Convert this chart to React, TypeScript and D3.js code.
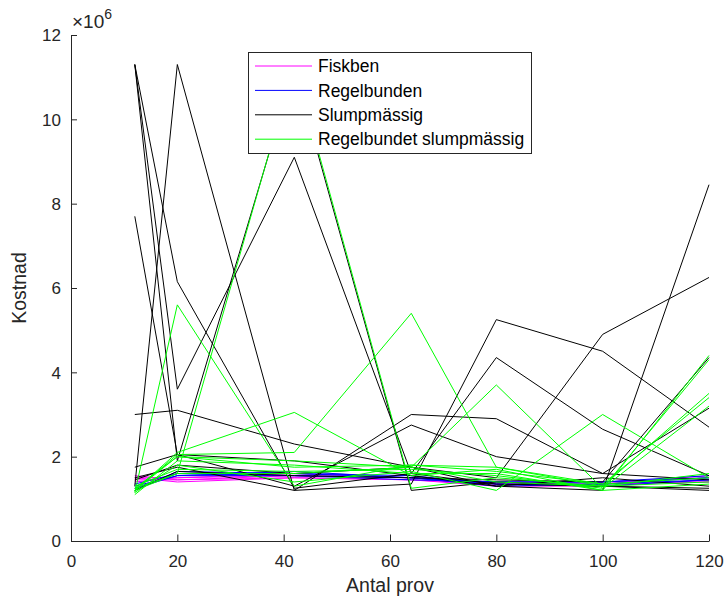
import React, { useEffect, useRef } from 'react';
import * as d3 from 'd3';

// antal prov (x) for every run
const antalProv = [12, 20, 42, 64, 80, 100, 120];

// kostnad in millions, one row per run
const fiskben = [
  [1.45, 1.45, 1.55, 1.5, 1.35, 1.35, 1.4],
  [1.5, 1.4, 1.5, 1.45, 1.3, 1.3, 1.45],
  [1.4, 1.5, 1.55, 1.5, 1.4, 1.4, 1.5],
  [1.55, 1.45, 1.5, 1.45, 1.35, 1.35, 1.55],
  [1.5, 1.5, 1.6, 1.5, 1.35, 1.4, 1.4],
];

const regelbunden = [
  [1.25, 1.6, 1.6, 1.5, 1.35, 1.35, 1.45],
  [1.3, 1.55, 1.55, 1.45, 1.4, 1.4, 1.5],
  [1.2, 1.65, 1.6, 1.55, 1.35, 1.3, 1.45],
  [1.35, 1.6, 1.55, 1.5, 1.3, 1.35, 1.5],
  [1.25, 1.55, 1.65, 1.5, 1.4, 1.4, 1.55],
];

const slumpmassig = [
  [11.3, 6.15, 1.25, 1.6, 1.35, 1.3, 1.25],
  [11.3, 3.6, 9.1, 1.6, 4.35, 2.65, 1.55],
  [1.3, 11.3, 1.2, 1.35, 5.25, 4.5, 2.7],
  [7.7, 2.05, 1.3, 2.75, 2.0, 1.6, 3.15],
  [3.0, 3.1, 2.3, 1.75, 1.5, 4.9, 6.25],
  [1.75, 2.05, 1.9, 1.55, 1.3, 1.2, 8.45],
  [11.3, 1.9, 11.2, 1.2, 1.4, 1.3, 1.2],
  [1.5, 1.75, 1.2, 3.0, 2.9, 1.6, 1.45],
  [1.2, 1.65, 1.55, 1.5, 1.45, 1.4, 4.35],
  [1.45, 1.8, 1.6, 1.75, 1.3, 1.5, 1.3],
];

const regelbundetSlump = [
  [1.2, 1.6, 11.3, 1.25, 1.5, 1.3, 1.4],
  [1.15, 5.6, 1.3, 1.8, 1.65, 1.35, 1.5],
  [1.2, 2.1, 3.05, 1.55, 1.7, 1.2, 4.4],
  [1.2, 2.05, 2.1, 5.4, 1.75, 1.3, 3.5],
  [1.25, 2.0, 1.9, 1.75, 3.7, 1.25, 4.3],
  [1.15, 1.8, 1.4, 1.65, 1.2, 3.0, 1.5],
  [1.2, 2.0, 1.75, 1.8, 1.75, 1.35, 3.4],
  [1.3, 1.7, 1.65, 1.7, 1.55, 1.25, 3.2],
  [1.25, 1.6, 1.6, 1.75, 1.4, 1.3, 1.6],
  [1.1, 1.9, 1.8, 1.6, 1.6, 1.2, 1.35],
];

const xTicks = [0, 20, 40, 60, 80, 100, 120];
const yTicks = [0, 2, 4, 6, 8, 10, 12];

const legendNames = ['Fiskben', 'Regelbunden', 'Slumpmässig', 'Regelbundet slumpmässig'];
const legendColors = ['#ff00ff', '#0000ff', '#000000', '#00ff00'];

const W = 725;
const H = 601;
const FONT = '"Liberation Sans", Arial, Helvetica, sans-serif';
const AX = '#262626';

const App = () => {
  const svgRef = useRef(null);

  useEffect(() => {
    const svg = d3.select(svgRef.current);
    svg.selectAll('*').remove();

    const x = d3.scaleLinear().domain([0, 120]).range([71, 709]);
    const y = d3.scaleLinear().domain([0, 12e6]).range([541, 35]);

    const line = d3.line<number>()
      .x((d, i) => x(antalProv[i]))
      .y(d => y(d * 1e6));

    const groups = [fiskben, regelbunden, slumpmassig, regelbundetSlump];
    groups.forEach((runs, gi) => {
      svg.append('g')
        .selectAll('path')
        .data(runs)
        .join('path')
        .attr('fill', 'none')
        .attr('stroke', legendColors[gi])
        .attr('stroke-width', 1)
        .attr('d', d => line(d));
    });

    // axes, MATLAB style (ticks inside, box off)
    const xAxis = svg.append('g')
      .attr('transform', `translate(0,${y(0)})`)
      .call(d3.axisBottom(x).tickValues(xTicks).tickSizeInner(-6.5).tickSizeOuter(0).tickPadding(14));
    const yAxis = svg.append('g')
      .attr('transform', `translate(${x(0)},0)`)
      .call(d3.axisLeft(y).tickValues(yTicks.map(v => v * 1e6)).tickFormat((d) => String(+d / 1e6)).tickSizeInner(-6).tickSizeOuter(0).tickPadding(10));

    [xAxis, yAxis].forEach(a => {
      a.select('.domain').attr('stroke', AX).attr('stroke-width', 1);
      a.selectAll('.tick line').attr('stroke', AX);
      a.selectAll('.tick text')
        .attr('fill', AX)
        .style('font-family', FONT)
        .style('font-size', '17px');
    });
    yAxis.selectAll('.tick text').attr('dy', '0.35em');

    // exponent label
    const expo = svg.append('text')
      .attr('x', 72)
      .attr('y', 28)
      .attr('fill', AX)
      .style('font-family', FONT)
      .style('font-size', '19px');
    expo.append('tspan').text('\u00d710');
    expo.append('tspan').attr('dy', -9).style('font-size', '14px').text('6');

    svg.append('text')
      .attr('x', (x(0) + x(120)) / 2)
      .attr('y', 592)
      .attr('text-anchor', 'middle')
      .attr('fill', AX)
      .style('font-family', FONT)
      .style('font-size', '19.5px')
      .text('Antal prov');

    svg.append('text')
      .attr('transform', `translate(26,${(y(0) + y(12e6)) / 2}) rotate(-90)`)
      .attr('text-anchor', 'middle')
      .attr('fill', AX)
      .style('font-family', FONT)
      .style('font-size', '19.5px')
      .text('Kostnad');

    // legend
    const lg = svg.append('g');
    lg.append('rect')
      .attr('x', 248.5)
      .attr('y', 52.5)
      .attr('width', 283)
      .attr('height', 101)
      .attr('fill', '#fff')
      .attr('stroke', AX)
      .attr('stroke-width', 1);

    legendNames.forEach((name, i) => {
      const cy = 66 + i * 24.4;
      lg.append('line')
        .attr('x1', 255)
        .attr('x2', 312)
        .attr('y1', cy)
        .attr('y2', cy)
        .attr('stroke', legendColors[i])
        .attr('stroke-width', 1);
      lg.append('text')
        .attr('x', 318)
        .attr('y', cy)
        .attr('dy', '0.35em')
        .attr('fill', '#000')
        .style('font-family', FONT)
        .style('font-size', '17.5px')
        .text(name);
    });
  }, []);

  return (
    <svg
      ref={svgRef}
      width={W}
      height={H}
      style={{ position: 'absolute', left: 0, top: 0, background: '#fff' }}
    />
  );
};

export default App;
